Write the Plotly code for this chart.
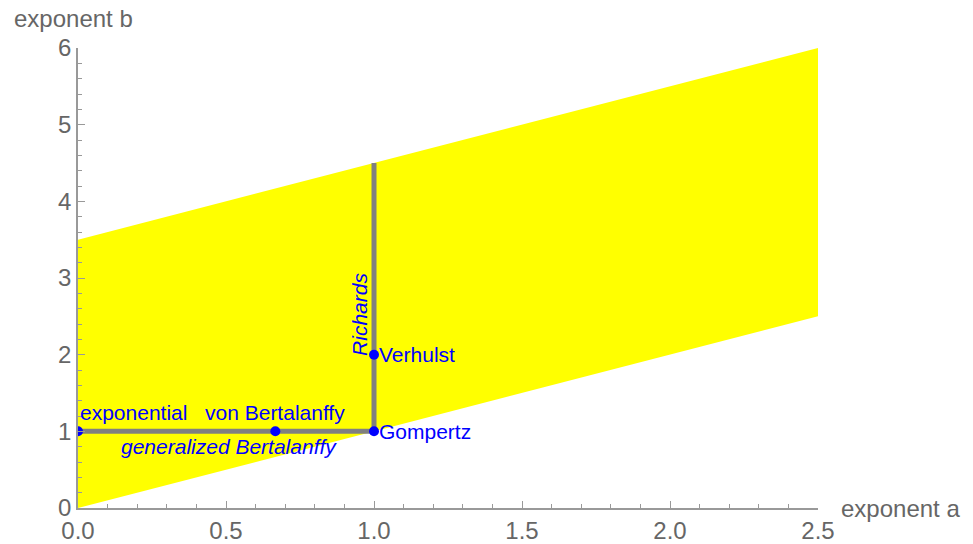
import plotly.graph_objects as go

# Region (parallelogram) corners
region_a = [0.0, 2.5, 2.5, 0.0]
region_b = [0.0, 2.5, 6.0, 3.5]

# Gray model lines
hline_a = [0.0, 1.0]
hline_b = [1.0, 1.0]
vline_a = [1.0, 1.0]
vline_b = [1.0, 4.5]

# Named model points
point_a = [0.0, 2/3, 1.0, 1.0]
point_b = [1.0, 1.0, 1.0, 2.0]

x_ticks = [0.0, 0.5, 1.0, 1.5, 2.0, 2.5]
x_tick_labels = ["0.0", "0.5", "1.0", "1.5", "2.0", "2.5"]
y_ticks = [0, 1, 2, 3, 4, 5, 6]
y_tick_labels = ["0", "1", "2", "3", "4", "5", "6"]

FONT = "Liberation Sans, Arial, sans-serif"
GRAY_TXT = "#666666"
BLUE = "#0000ff"

fig = go.Figure()
fig.add_trace(go.Scatter(x=region_a, y=region_b, fill="toself", fillcolor="#ffff00",
                         mode="none", hoverinfo="skip", showlegend=False))
fig.add_trace(go.Scatter(x=hline_a, y=hline_b, mode="lines",
                         line=dict(color="#808080", width=5), showlegend=False))
fig.add_trace(go.Scatter(x=vline_a, y=vline_b, mode="lines",
                         line=dict(color="#808080", width=5), showlegend=False))
fig.add_trace(go.Scatter(x=point_a, y=point_b, mode="markers",
                         marker=dict(color=BLUE, size=10), showlegend=False))

ann_font = dict(family=FONT, size=21, color=BLUE)
annotations = [
    dict(x=0.0, y=1.24, text="exponential", xanchor="left", xshift=0),
    dict(x=2/3, y=1.24, text="von Bertalanffy", xanchor="center"),
    dict(x=0.51, y=0.80, text="<i>generalized Bertalanffy</i>", xanchor="center"),
    dict(x=1.0, y=1.0, text="Gompertz", xanchor="left", xshift=3),
    dict(x=1.0, y=2.0, text="Verhulst", xanchor="left", xshift=3),
    dict(x=0.953, y=2.52, text="<i>Richards</i>", textangle=-90, xanchor="center"),
]
for a in annotations:
    a.setdefault("yanchor", "middle")
    a.update(xref="x", yref="y", showarrow=False, font=ann_font)

annotations.append(dict(x=0.0, y=1.0, xref="paper", yref="paper", xanchor="left",
                        yanchor="middle", xshift=-66, yshift=30, text="exponent b",
                        showarrow=False, font=dict(family=FONT, size=24, color=GRAY_TXT)))
annotations.append(dict(x=1.0, y=0.0, xref="paper", yref="paper", xanchor="left",
                        yanchor="middle", xshift=21, text="exponent a", showarrow=False,
                        font=dict(family=FONT, size=24, color=GRAY_TXT)))

axis_common = dict(showgrid=False, zeroline=False, showline=True, linecolor="#999999",
                   linewidth=1.5, ticks="inside", ticklen=7, tickcolor="#999999",
                   tickwidth=1, automargin=False,
                   tickfont=dict(family=FONT, size=24, color=GRAY_TXT))

# page body has an 8px margin, so the figure is sized/offset to compensate
fig.update_layout(
    width=965, height=536,
    margin=dict(l=70, r=155, t=40, b=36),
    paper_bgcolor="white", plot_bgcolor="white",
    xaxis=dict(range=[0, 2.5], tickvals=x_ticks, ticktext=x_tick_labels,
               minor=dict(dtick=0.1, tick0=0, ticks="inside", ticklen=4,
                          tickcolor="#999999", showgrid=False),
               **axis_common),
    yaxis=dict(range=[0, 6], tickvals=y_ticks, ticktext=y_tick_labels,
               minor=dict(dtick=0.2, tick0=0, ticks="inside", ticklen=4,
                          tickcolor="#999999", showgrid=False),
               **axis_common),
    annotations=annotations,
)

fig.write_html("out.html")
